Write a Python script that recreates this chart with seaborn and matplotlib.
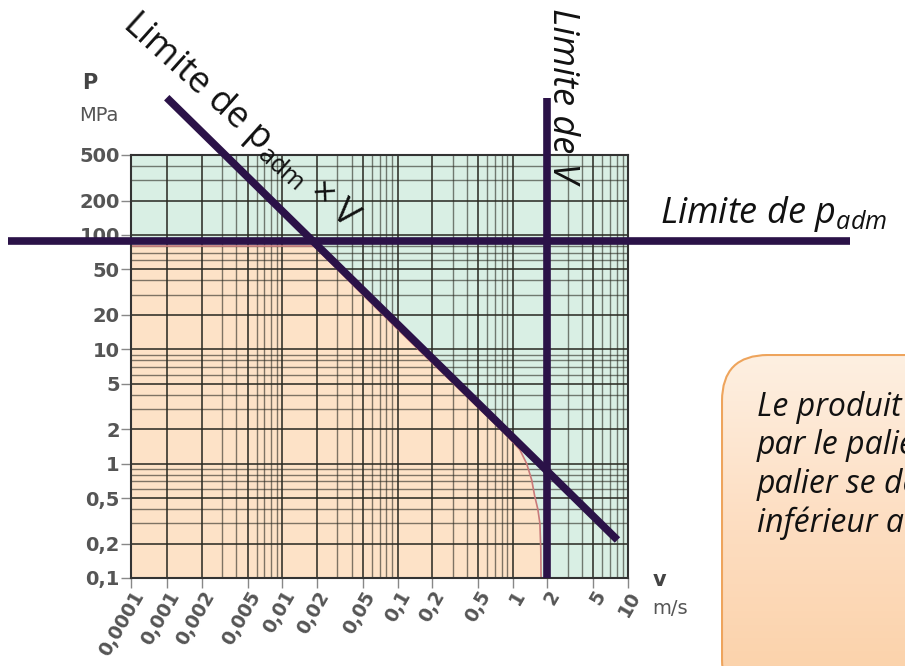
import numpy as np
import seaborn as sns
import matplotlib.pyplot as plt
from matplotlib.patches import FancyBboxPatch
from matplotlib.colors import LinearSegmentedColormap
from matplotlib.ticker import FixedLocator, FixedFormatter, NullFormatter

sns.set_style("white")
plt.rcParams['font.family'] = ['DejaVu Sans']
plt.rcParams['mathtext.fontset'] = 'custom'
plt.rcParams['mathtext.rm'] = 'Open Sans'
plt.rcParams['mathtext.it'] = 'Open Sans:italic'

# data
v_ticks = [0.0001, 0.001, 0.002, 0.005, 0.01, 0.02, 0.05, 0.1, 0.2, 0.5, 1, 2, 5, 10]
v_labels = ['0,0001', '0,001', '0,002', '0,005', '0,01', '0,02', '0,05',
            '0,1', '0,2', '0,5', '1', '2', '5', '10']
p_ticks = [0.1, 0.2, 0.5, 1, 2, 5, 10, 20, 50, 100, 200, 500]
p_labels = ['0,1', '0,2', '0,5', '1', '2', '5', '10', '20', '50', '100', '200', '500']

p_adm = 88          # MPa, limite de p_adm
v_lim = 2           # m/s, limite de V
pv_v = [0.00098, 8.1]     # droite p_adm x V
pv_p = [1585, 0.215]

# zone d'utilisation (orange)
zone_v = [0.0001, 0.019, 0.05, 0.1, 0.2, 0.5, 0.82, 1.15, 1.32, 1.46, 1.55, 1.65, 1.72, 1.75, 1.76]
zone_p = [80, 80, 30, 15, 7.6, 3.1, 1.91, 1.33, 1.0, 0.72, 0.52, 0.4, 0.3, 0.18, 0.1]

purple = '#2b1248'
W, H = 905, 666


def fx(x):
    return x / W


def fy(y):
    return 1 - y / H


# first decade of the v axis is compressed on the original chart
def fwd(v):
    lv = np.log10(np.clip(np.asarray(v, dtype=float), 1e-12, None))
    return np.where(lv >= -3, lv, -3 + (lv + 3) * 0.313)


def inv(u):
    u = np.asarray(u, dtype=float)
    return np.where(u >= -3, 10.0 ** u, 10.0 ** (-3 + (u + 3) / 0.313))


fig = plt.figure(figsize=(W / 100, H / 100), dpi=100)
ax = fig.add_axes([fx(131), fy(578), 497 / W, 423 / H])
ax.set_xscale('function', functions=(fwd, inv))
ax.set_yscale('log')
ax.set_xlim(0.0001, 10)
ax.set_ylim(0.1, 500)
ax.set_facecolor('#d9efe4')

ax.fill_between(zone_v, zone_p, 0.1, color='#fde2c7', lw=0, zorder=0.2)

minor_v = [k * 10.0 ** e for e in range(-3, 1) for k in (3, 4, 6, 7, 8, 9)]
minor_p = [k * 10.0 ** e for e in range(-1, 3) for k in (3, 4, 6, 7, 8, 9)]
minor_p = [m for m in minor_p if m < 500]
ax.xaxis.set_major_locator(FixedLocator(v_ticks))
ax.xaxis.set_major_formatter(FixedFormatter(v_labels))
ax.xaxis.set_minor_locator(FixedLocator(minor_v))
ax.xaxis.set_minor_formatter(NullFormatter())
ax.yaxis.set_major_locator(FixedLocator(p_ticks))
ax.yaxis.set_major_formatter(FixedFormatter(p_labels))
ax.yaxis.set_minor_locator(FixedLocator(minor_p))
ax.yaxis.set_minor_formatter(NullFormatter())

ax.set_axisbelow(True)
ax.grid(which='major', color='#2a2a22', alpha=0.8, lw=1.4)
ax.grid(which='minor', color='#2a2a22', alpha=0.6, lw=1.0)
for s in ax.spines.values():
    s.set_visible(True)
    s.set_color('#333333')
    s.set_linewidth(1.5)

ax.tick_params(which='major', length=7, width=1, color='#888888', direction='out',
               left=True, bottom=True, labelsize=14, labelcolor='#555555', pad=1)
ax.tick_params(axis='x', which='major', labelsize=13.5, pad=0)
ax.tick_params(which='minor', length=0)
for lab in ax.get_yticklabels():
    lab.set_fontweight('bold')
for lab in ax.get_xticklabels():
    lab.set_fontweight('bold')
    lab.set_rotation(60)
    lab.set_ha('right')
    lab.set_va('top')
    lab.set_rotation_mode('anchor')

# limit curve of the usage zone
sns.lineplot(x=zone_v, y=zone_p, ax=ax, sort=False, color='#c97a7a', lw=1.2, zorder=1)

# limit lines
ax.axhline(p_adm, xmin=-0.247, xmax=1.447, color=purple, lw=5.5, clip_on=False,
           solid_capstyle='butt', zorder=5)
ax.axvline(v_lim, ymin=0, ymax=1.135, color=purple, lw=5.5, clip_on=False,
           solid_capstyle='butt', zorder=5)
sns.lineplot(x=pv_v, y=pv_p, ax=ax, color=purple, lw=5.5, clip_on=False,
             solid_capstyle='butt', zorder=5)

# axis titles
fig.text(fx(82), fy(89), 'P', fontsize=15, fontweight='bold', color='#444444')
fig.text(fx(79), fy(121), 'MPa', fontsize=14, color='#555555')
fig.text(fx(653), fy(586), 'v', fontsize=15, fontweight='bold', color='#444444')
fig.text(fx(652), fy(614), 'm/s', fontsize=14, color='#555555')

# annotations
fig.text(fx(240), fy(121), r'Limite de p$_{\mathrm{adm}}$ × V', family='Open Sans', fontsize=26,
         rotation=-42, rotation_mode='anchor', ha='center', va='center', color='#111111')
fig.text(fx(553), fy(8), 'Limite de V', family='Open Sans', style='italic', fontsize=26,
         rotation=-90, rotation_mode='anchor', ha='left', va='baseline', color='#111111')
fig.text(fx(660), fy(223), r'Limite de p$_{adm}$', family='Open Sans', style='italic', fontsize=26,
         ha='left', va='baseline', color='#111111')

# callout box (cut by the right edge)
bx = fig.add_axes([fx(721), -40 / H, 242 / W, 352 / H])
bx.set_xlim(0, 242)
bx.set_ylim(0, 352)
bx.axis('off')
box = FancyBboxPatch((1, 1), 240, 350, boxstyle='round,pad=0,rounding_size=46',
                     fc='none', ec='#eea45c', lw=1.5, zorder=3)
bx.add_patch(box)
cmap = LinearSegmentedColormap.from_list('peach', ['#fbd0a6', '#fdddc0', '#fef0e2'])
grad = bx.imshow(np.linspace(0, 1, 256)[:, None], extent=(0, 242, 0, 352), origin='lower',
                 aspect='auto', cmap=cmap, zorder=1)
grad.set_clip_path(box)

lines = ['Le produit pV', 'par le palier', 'palier se dégrade', 'inférieur au']
for i, t in enumerate(lines):
    fig.text(fx(757), fy(416 + 38.5 * i), t, family='Open Sans', style='italic', fontsize=23,
             color='#111111', ha='left', va='baseline')

fig.savefig('out.png', dpi=100)
